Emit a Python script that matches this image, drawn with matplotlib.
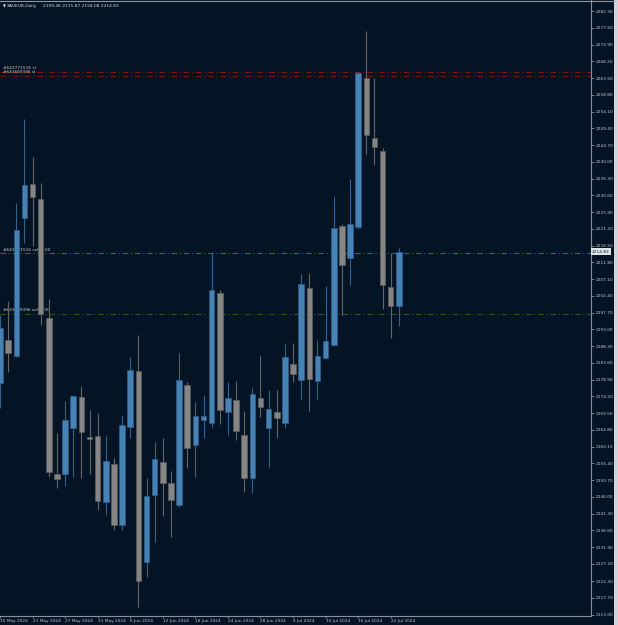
import matplotlib.pyplot as plt
from matplotlib.lines import Line2D
from matplotlib.patches import Rectangle
import numpy as np
import pandas as pd

# XAUEUR daily candles, 15 May 2024 .. 23 Jul 2024
opens = [2178.04, 2190.02, 2185.61, 2224.15, 2233.69, 2229.57, 2196.10, 2152.43, 2152.34, 2165.25,
         2173.94, 2162.81, 2163.09, 2144.49, 2155.32, 2138.12, 2165.53, 2181.40, 2127.83, 2146.54,
         2155.88, 2149.82, 2143.73, 2177.39, 2160.56, 2167.58, 2166.82, 2203.20, 2169.74, 2173.10,
         2163.28, 2151.39, 2173.66, 2165.42, 2169.74, 2166.65, 2183.37, 2178.80, 2204.52, 2178.51,
         2184.88, 2188.61, 2222.08, 2212.93, 2221.63, 2263.59, 2246.59, 2243.03, 2204.80, 2199.46]
highs = [2197.03, 2200.95, 2228.53, 2251.92, 2241.43, 2234.14, 2201.43, 2163.84, 2172.99, 2174.59,
         2177.11, 2170.38, 2169.45, 2163.09, 2156.83, 2168.98, 2185.33, 2191.42, 2151.39, 2161.49,
         2162.61, 2153.27, 2186.45, 2178.32, 2172.54, 2174.59, 2214.42, 2204.04, 2178.15, 2178.51,
         2170.10, 2176.64, 2185.53, 2175.99, 2175.99, 2188.89, 2189.09, 2208.44, 2208.72, 2190.02,
         2205.16, 2230.49, 2222.47, 2235.18, 2265.30, 2276.69, 2263.59, 2243.79, 2214.33, 2215.87]
lows = [2170.94, 2181.12, 2185.39, 2217.14, 2216.38, 2194.22, 2151.67, 2148.59, 2149.15, 2151.67,
        2151.39, 2152.34, 2142.33, 2140.93, 2136.72, 2136.72, 2162.61, 2115.12, 2123.62, 2133.44,
        2140.73, 2134.84, 2143.26, 2154.20, 2151.67, 2162.44, 2165.61, 2166.37, 2163.37, 2161.97,
        2147.46, 2147.01, 2168.33, 2154.48, 2162.53, 2165.25, 2178.32, 2173.19, 2170.10, 2173.38,
        2184.60, 2188.33, 2197.03, 2205.44, 2221.15, 2242.10, 2239.10, 2198.71, 2190.66, 2194.08]
closes = [2193.30, 2186.28, 2220.87, 2233.49, 2230.21, 2197.31, 2152.91, 2151.11, 2167.58, 2174.31,
          2164.29, 2162.25, 2144.85, 2156.16, 2138.12, 2166.17, 2181.60, 2122.50, 2146.26, 2156.55,
          2149.99, 2145.14, 2178.80, 2159.81, 2168.70, 2168.70, 2204.04, 2170.38, 2173.66, 2164.57,
          2151.39, 2174.78, 2171.31, 2170.66, 2168.05, 2185.16, 2180.39, 2205.64, 2178.99, 2185.53,
          2189.82, 2221.52, 2211.05, 2222.55, 2264.99, 2247.52, 2244.07, 2205.44, 2199.64, 2214.83]

dates = pd.bdate_range('2024-05-15', periods=len(opens))

# order lines: (label, price, colour)
order_lines = [
    ('#643771516 sl', 2265.33, '#7e1717'),
    ('#643669396 sl', 2264.07, '#701414'),
    ('#643771516 sell 1.00', 2214.33, '#247a26'),
    ('#643669396 sell 1.00', 2197.39, '#1b5c20'),
]

price_ticks = [2282.30, 2277.60, 2272.90, 2268.20, 2263.50, 2258.80, 2254.10, 2249.40, 2244.70,
               2240.00, 2235.30, 2230.60, 2225.90, 2221.20, 2216.50, 2211.80, 2207.10, 2202.40,
               2197.70, 2193.00, 2188.30, 2183.60, 2178.90, 2174.20, 2169.50, 2164.80, 2160.10,
               2155.40, 2150.70, 2146.00, 2141.30, 2136.60, 2131.90, 2127.20, 2122.40, 2117.70,
               2113.00]

bg = '#051424'
txt = '#c4c8cc'
bull, bull_edge, bull_wick = '#4682b4', '#2d5f8c', '#35638c'
bear, bear_edge, bear_wick = '#858585', '#5e5e5e', '#646464'

fig = plt.figure(figsize=(6.18, 6.25), dpi=100, facecolor=bg)
ax = fig.add_axes([0, 9 / 625, 591 / 618, 616 / 625])
ax.set_facecolor(bg)

o = np.array(opens)
c = np.array(closes)
x = np.arange(len(o))
up = c >= o
body_lo = np.minimum(o, c)
body_h = np.maximum(np.abs(c - o), 0.5)

ax.vlines(x[up], np.array(lows)[up], np.array(highs)[up], color=bull_wick, lw=0.8, zorder=2)
ax.vlines(x[~up], np.array(lows)[~up], np.array(highs)[~up], color=bear_wick, lw=0.8, zorder=2)
ax.bar(x[up], body_h[up], bottom=body_lo[up], width=0.68, color=bull,
       edgecolor=bull_edge, linewidth=0.5, zorder=3)
ax.bar(x[~up], body_h[~up], bottom=body_lo[~up], width=0.68, color=bear,
       edgecolor=bear_edge, linewidth=0.5, zorder=3)

for label, price, col in order_lines:
    ax.axhline(price, color=col, lw=0.8, ls=(0, (5, 2.5, 1, 2.5)), zorder=1)
    ax.text(0.4, price + 0.5, label, color='#c8c8c8', fontsize=3.1,
            va='bottom', ha='left', zorder=1.5)

ax.set_xlim(0, 591 / 8.14)
ax.set_ylim(2112.60, 2285.39)

# price axis
ax.yaxis.tick_right()
ax.set_yticks(price_ticks)
ax.set_yticklabels([f'{p:.2f}' for p in price_ticks])
ax.tick_params(axis='y', colors='#8a9099', labelcolor=txt, labelsize=3.1,
               length=2, width=0.6, pad=1.2)

# time axis
xt = x[::4]
ax.set_xticks(xt)
ax.set_xticklabels([f'{d.day} {d:%b %Y}' for d in dates[::4]])
ax.tick_params(axis='x', colors='#8a9099', labelcolor=txt, labelsize=3.1,
               length=1.5, width=0.6, pad=0.8)
for lab in ax.get_xticklabels():
    lab.set_ha('left')

for s in ['top', 'left']:
    ax.spines[s].set_visible(False)
for s in ['right', 'bottom']:
    ax.spines[s].set_color('#8a9099')
    ax.spines[s].set_linewidth(0.8)

# current price box
ax.text(1.002, closes[-1], f'{closes[-1]:.2f}', transform=ax.get_yaxis_transform(),
        fontsize=3.1, color='#0a1626', va='center', ha='left', clip_on=False,
        bbox=dict(boxstyle='square,pad=0.25', fc='#dfe3e6', ec='none'))

# header
fig.text(3 / 618, 1 - 6 / 625, '\u25bc', fontsize=2.6, color='white', va='center')
fig.text(7 / 618, 1 - 6 / 625, 'XAUEUR,Daily', fontsize=3.2, color='#d8d8d8', va='center')
fig.text(42.7 / 618, 1 - 6 / 625, f'{opens[-1]:.2f} {highs[-1]:.2f} {lows[-1]:.2f} {closes[-1]:.2f}',
         fontsize=3.2, color='#d8d8d8', va='center')

# window borders
fig.add_artist(Line2D([0, 614 / 618], [1 - 0.5 / 625] * 2, color='#8e959c', lw=0.8))
fig.add_artist(Rectangle((614 / 618, 0), 4 / 618, 1, transform=fig.transFigure,
                         color='#d0d5da', lw=0))

fig.savefig('out.png', dpi=100, facecolor=bg)
